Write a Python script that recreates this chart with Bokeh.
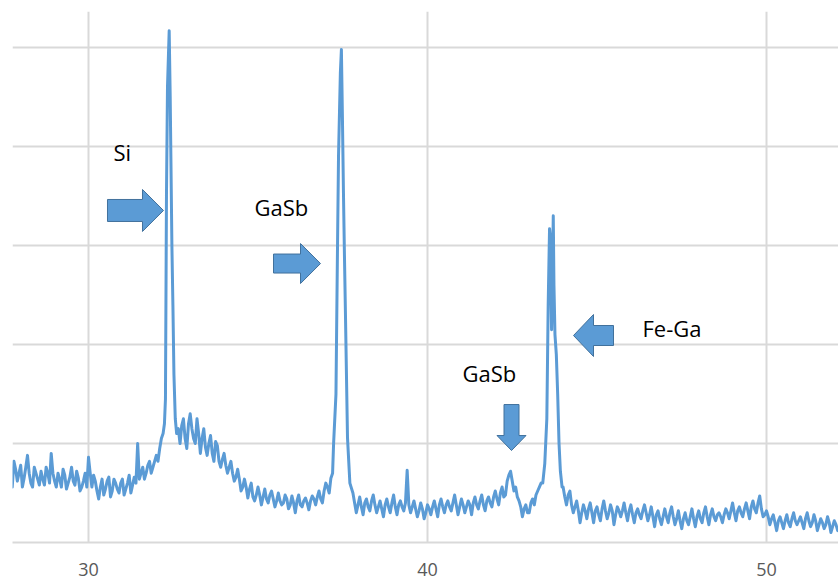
from bokeh.plotting import figure
from bokeh.models import Range1d, FixedTicker
from bokeh.core.properties import value
from bokeh.embed import file_html
from bokeh.resources import INLINE

# ---------------- data ----------------
bg1_x = [27.7, 27.8, 27.9, 28.0, 28.1, 28.2, 28.3, 28.4, 28.5, 28.6, 28.7, 28.8, 28.9, 29.0,
         29.1, 29.2, 29.3, 29.4, 29.5, 29.6, 29.7, 29.8, 29.9, 30.0, 30.1, 30.2, 30.3, 30.4,
         30.5, 30.6, 30.7, 30.8, 30.9, 31.0, 31.1, 31.2, 31.3, 31.4, 31.45, 31.5, 31.6, 31.7,
         31.8, 31.9, 32.0, 32.1]
bg1_y = [700, 820, 620, 780, 650, 880, 600, 760, 640, 720, 580, 700, 900, 620,
         700, 560, 680, 600, 760, 580, 650, 560, 700, 860, 560, 620, 440, 640,
         540, 660, 520, 600, 500, 640, 540, 680, 580, 600, 1000, 640, 760, 700,
         820, 760, 880, 950]
bg1_mid_x = [27.75, 27.85, 27.95, 28.05, 28.15, 28.25, 28.35, 28.45, 28.55, 28.65, 28.75, 28.85,
             28.95, 29.05, 29.15, 29.25, 29.35, 29.45, 29.55, 29.65, 29.75, 29.85, 29.95, 30.05,
             30.15, 30.25, 30.35, 30.45, 30.55, 30.65, 30.75, 30.85, 30.95, 31.05, 31.15, 31.25,
             31.35, 31.55, 31.65, 31.75, 31.85, 31.95, 32.05, 32.15]
bg1_mid_y = [560, 740, 700, 560, 760, 700, 560, 700, 580, 640, 760, 600,
             700, 560, 640, 740, 540, 660, 620, 720, 520, 620, 560, 700,
             680, 520, 560, 480, 620, 460, 640, 540, 600, 480, 600, 500,
             660, 700, 640, 780, 700, 820, 820, 1050]

si_x = [32.2, 32.24, 32.27, 32.30, 32.33, 32.38, 32.41, 32.43, 32.46, 32.49, 32.52, 32.56, 32.6]
si_y = [1100, 1200, 1450, 3500, 4600, 5170, 4500, 3900, 3000, 2400, 1700, 1250, 1100]

hump_x = [32.7, 32.8, 32.9, 33.0, 33.1, 33.2, 33.3, 33.4, 33.5, 33.6, 33.7, 33.8, 33.9, 34.0,
          34.1, 34.2, 34.3, 34.4, 34.5, 34.6, 34.7, 34.8, 34.9, 35.0, 35.1, 35.2, 35.3, 35.4,
          35.5, 35.6, 35.7, 35.8, 35.9, 36.0, 36.1, 36.2, 36.3, 36.4, 36.5, 36.6, 36.7, 36.8,
          36.9, 37.0, 37.1, 37.2]
hump_y = [1000, 1250, 950, 1300, 1050, 1250, 900, 1150, 880, 1080, 820, 980, 760, 900,
          700, 820, 620, 740, 520, 640, 450, 600, 420, 560, 380, 540, 400, 520,
          360, 500, 380, 480, 340, 470, 300, 480, 360, 450, 330, 470, 380, 520,
          400, 600, 500, 700]
hump_mid_x = [32.65, 32.75, 32.85, 32.95, 33.05, 33.15, 33.25, 33.35, 33.45, 33.55, 33.65, 33.75,
              33.85, 33.95, 34.05, 34.15, 34.25, 34.35, 34.45, 34.55, 34.65, 34.75, 34.85, 34.95,
              35.05, 35.15, 35.25, 35.35, 35.45, 35.55, 35.65, 35.75, 35.85, 35.95, 36.05, 36.15,
              36.25, 36.35, 36.45, 36.55, 36.65, 36.75, 36.85, 36.95, 37.05, 37.15]
hump_mid_y = [1150, 1180, 1050, 1200, 1150, 1000, 1100, 1050, 960, 1000, 900, 1020,
              820, 840, 780, 760, 700, 660, 640, 560, 560, 540, 460, 480,
              480, 460, 440, 480, 440, 420, 420, 400, 440, 380, 400, 420,
              380, 420, 400, 420, 440, 460, 440, 520, 560, 650]

gasb_x = [37.23, 37.30, 37.345, 37.375, 37.43, 37.46, 37.49, 37.52, 37.55, 37.58, 37.64, 37.71]
gasb_y = [1000, 1500, 2980, 3900, 4750, 4980, 4300, 3550, 2900, 2300, 1060, 600]

bg2_x = [37.8, 37.9, 38.0, 38.1, 38.2, 38.3, 38.4, 38.5, 38.6, 38.7, 38.8, 38.9, 39.0, 39.1,
         39.2, 39.3, 39.4, 39.5, 39.6, 39.7, 39.8, 39.9, 40.0, 40.1, 40.2, 40.3, 40.4, 40.5,
         40.6, 40.7, 40.8, 40.9, 41.0, 41.1, 41.2, 41.3, 41.4, 41.5, 41.6, 41.7, 41.8, 41.9,
         42.0, 42.1, 42.2, 42.3, 42.4, 42.45, 42.5, 42.6, 42.7, 42.8, 42.9, 43.0, 43.1, 43.2,
         43.3]
bg2_y = [500, 300, 460, 280, 440, 320, 480, 300, 420, 260, 440, 300, 480, 280,
         420, 320, 730, 300, 420, 260, 400, 240, 380, 280, 420, 260, 440, 300,
         420, 320, 480, 280, 440, 300, 420, 280, 460, 340, 480, 320, 460, 360,
         520, 380, 560, 480, 680, 720, 620, 560, 420, 260, 380, 300, 440, 480,
         560]
bg2_mid_x = [37.85, 37.95, 38.05, 38.15, 38.25, 38.35, 38.45, 38.55, 38.65, 38.75, 38.85, 38.95,
             39.05, 39.15, 39.25, 39.35, 39.45, 39.55, 39.65, 39.75, 39.85, 39.95, 40.05, 40.15,
             40.25, 40.35, 40.45, 40.55, 40.65, 40.75, 40.85, 40.95, 41.05, 41.15, 41.25, 41.35,
             41.45, 41.55, 41.65, 41.75, 41.85, 41.95, 42.05, 42.15, 42.25, 42.35, 42.55, 42.65,
             42.75, 42.85, 42.95, 43.05, 43.15, 43.25, 43.35]
bg2_mid_y = [400, 380, 360, 400, 360, 420, 380, 360, 340, 380, 360, 400,
             360, 380, 360, 400, 380, 360, 340, 320, 340, 300, 340, 360,
             340, 380, 360, 380, 360, 400, 380, 360, 380, 360, 380, 400,
             380, 420, 380, 420, 400, 460, 440, 500, 460, 620, 520, 460,
             360, 340, 300, 400, 380, 520, 600]

fega_x = [43.40, 43.46, 43.52, 43.56, 43.60, 43.62, 43.66, 43.69, 43.71, 43.73, 43.76, 43.80,
          43.84, 43.88, 43.92, 43.97]
fega_y = [600, 800, 1250, 2400, 3170, 3100, 2150, 2800, 3300, 2600, 2100, 1900,
          1500, 1000, 720, 560]

bg3_x = [44.0, 44.1, 44.2, 44.3, 44.4, 44.5, 44.6, 44.7, 44.8, 44.9, 45.0, 45.1, 45.2, 45.3,
         45.4, 45.5, 45.6, 45.7, 45.8, 45.9, 46.0, 46.1, 46.2, 46.3, 46.4, 46.5, 46.6, 46.7,
         46.8, 46.9, 47.0, 47.1, 47.2, 47.3, 47.4, 47.5, 47.6, 47.7, 47.8, 47.9, 48.0, 48.1,
         48.2, 48.3, 48.4, 48.5, 48.6, 48.7, 48.8, 48.9, 49.0, 49.1, 49.2, 49.3, 49.4, 49.5,
         49.6, 49.7, 49.8, 49.9, 50.0, 50.1, 50.2, 50.3, 50.4, 50.5, 50.6, 50.7, 50.8, 50.9,
         51.0, 51.1, 51.2, 51.3, 51.4, 51.5, 51.6, 51.7, 51.8, 51.9, 52.0, 52.1, 52.2]
bg3_y = [560, 380, 520, 300, 420, 200, 380, 240, 400, 200, 360, 220, 420, 240,
         380, 180, 360, 260, 400, 220, 380, 200, 340, 240, 380, 220, 360, 160,
         320, 180, 340, 200, 360, 180, 320, 140, 300, 180, 340, 160, 320, 200,
         360, 180, 340, 220, 300, 200, 340, 240, 400, 220, 360, 260, 400, 240,
         420, 300, 470, 260, 320, 180, 280, 120, 260, 140, 280, 160, 300, 180,
         260, 140, 300, 160, 280, 120, 240, 140, 260, 100, 220, 120, 200]
bg3_mid_x = [44.05, 44.15, 44.25, 44.35, 44.45, 44.55, 44.65, 44.75, 44.85, 44.95, 45.05, 45.15,
             45.25, 45.35, 45.45, 45.55, 45.65, 45.75, 45.85, 45.95, 46.05, 46.15, 46.25, 46.35,
             46.45, 46.55, 46.65, 46.75, 46.85, 46.95, 47.05, 47.15, 47.25, 47.35, 47.45, 47.55,
             47.65, 47.75, 47.85, 47.95, 48.05, 48.15, 48.25, 48.35, 48.45, 48.55, 48.65, 48.75,
             48.85, 48.95, 49.05, 49.15, 49.25, 49.35, 49.45, 49.55, 49.65, 49.75, 49.85, 49.95,
             50.05, 50.15, 50.25, 50.35, 50.45, 50.55, 50.65, 50.75, 50.85, 50.95, 51.05, 51.15,
             51.25, 51.35, 51.45, 51.55, 51.65, 51.75, 51.85, 51.95, 52.05, 52.15]
bg3_mid_y = [460, 480, 380, 360, 320, 300, 320, 340, 300, 320, 280, 340,
             320, 300, 320, 280, 320, 320, 300, 320, 280, 300, 280, 320,
             300, 280, 260, 280, 240, 260, 260, 300, 260, 240, 220, 240,
             220, 260, 240, 260, 240, 300, 260, 280, 260, 280, 260, 280,
             300, 320, 300, 320, 300, 340, 320, 360, 340, 400, 340, 280,
             260, 240, 200, 220, 200, 220, 200, 240, 220, 220, 200, 240,
             220, 200, 220, 180, 200, 180, 200, 160, 180, 160]

x_ticks = [30, 40, 50]
y_grid = [0, 1000, 2000, 3000, 4000, 5000]

label_text = ["Si", "GaSb", "GaSb", "Fe-Ga"]
label_x = [30.737, 34.897, 41.032, 46.342]
label_y = [3940, 3385, 1708, 2162]

arrow_tip_x = [32.212, 36.844, 44.307, 42.478]
arrow_tip_y = [3354, 2818, 2091, 929]
arrow_dir = ["right", "right", "left", "down"]

# merge all segments into one scan ordered by angle
pairs = sorted(zip(bg1_x + bg1_mid_x + si_x + hump_x + hump_mid_x + gasb_x + bg2_x + bg2_mid_x
                   + fega_x + bg3_x + bg3_mid_x,
                   bg1_y + bg1_mid_y + si_y + hump_y + hump_mid_y + gasb_y + bg2_y + bg2_mid_y
                   + fega_y + bg3_y + bg3_mid_y))
two_theta = [a for a, b in pairs]
intensity = [b for a, b in pairs]

# ---------------- layout / style ----------------
X0, X1 = 27.758, 52.124
Y0, Y1 = 0, 5364
FW, FH = 826, 531
arrow_len = [56, 47, 40, 46]       # px
arrow_head = [21, 20, 20, 15]      # px
arrow_head_w = [21, 20, 21, 14.5]  # px
arrow_shaft_w = [11, 9.5, 10, 7.5] # px

p = figure(frame_width=FW, frame_height=FH,
           x_range=Range1d(X0, X1), y_range=Range1d(Y0, Y1),
           output_backend="svg", toolbar_location=None,
           min_border_left=12, min_border_right=0, min_border_top=11, min_border_bottom=39)
p.outline_line_color = None
p.background_fill_color = "white"

p.xaxis.ticker = FixedTicker(ticks=x_ticks)
p.xaxis.major_tick_line_color = None
p.xaxis.minor_tick_line_color = None
p.xaxis.axis_line_color = "#d9d9d9"
p.xaxis.axis_line_width = 2
p.xaxis.major_label_text_font = "Open Sans"
p.xaxis.major_label_text_font_size = "18px"
p.xaxis.major_label_text_color = "#595959"
p.xaxis.major_label_standoff = 14

p.yaxis.visible = False
p.ygrid.ticker = FixedTicker(ticks=y_grid)
p.xgrid.grid_line_color = "#d9d9d9"
p.ygrid.grid_line_color = "#d9d9d9"
p.xgrid.grid_line_width = 2
p.ygrid.grid_line_width = 2

p.line(two_theta, intensity, line_color="#5b9bd5", line_width=3, line_join="round")

sx = FW / (X1 - X0)
sy = FH / (Y1 - Y0)
xs, ys = [], []
for tx, ty, d, L, H, W, S in zip(arrow_tip_x, arrow_tip_y, arrow_dir,
                                  arrow_len, arrow_head, arrow_head_w, arrow_shaft_w):
    local = [(0, 0), (H, -W), (H, -S), (L, -S), (L, S), (H, S), (H, W)]
    px, py = [], []
    for u, v in local:
        if d == "right":
            px.append(tx - u / sx); py.append(ty + v / sy)
        elif d == "left":
            px.append(tx + u / sx); py.append(ty + v / sy)
        else:  # down
            px.append(tx + v / sx); py.append(ty + u / sy)
    xs.append(px); ys.append(py)

p.patches(xs, ys, fill_color="#5b9bd5", line_color="#41719c", line_width=1)

p.text(x=label_x, y=label_y, text=label_text, text_font=value("Open Sans"),
       text_font_size="22px", text_baseline="middle", text_align="left",
       text_color="#000000")

open("out.html", "w").write(file_html(p, INLINE))
